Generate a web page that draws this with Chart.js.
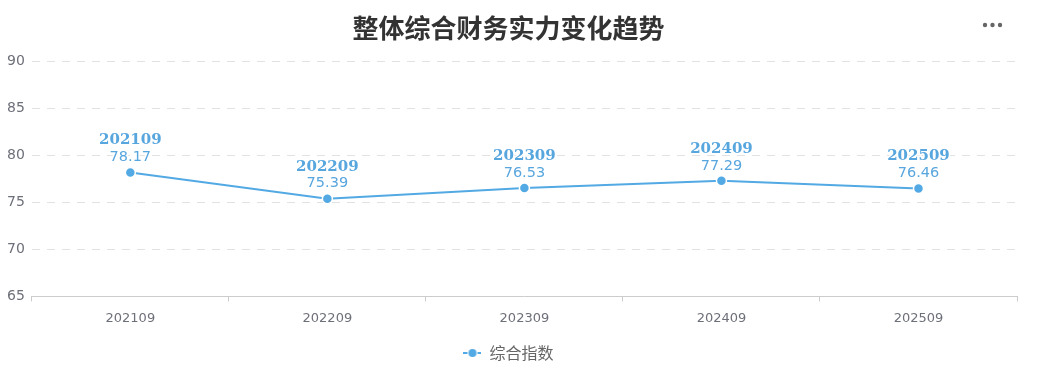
<!DOCTYPE html>
<html>
<head>
<meta charset="utf-8">
<script src="https://cdn.jsdelivr.net/npm/chart.js@4/dist/chart.umd.min.js"></script>
<style>
html,body{margin:0;padding:0;background:#fff;}
#wrap{width:1039px;height:371px;}
</style>
</head>
<body>
<div id="wrap"><canvas id="c" width="1039" height="371"></canvas></div>
<script>
const categories = ["202109", "202209", "202309", "202409", "202509"];
const indexValues = [78.17, 75.39, 76.53, 77.29, 76.46];
const yTicks = [65, 70, 75, 80, 85, 90];
const seriesName = "综合指数";
const titleText = "整体综合财务实力变化趋势";

const LINE = "#52a9e3";
const LABEL = "#58a6de";

// legend icon: line - dot - line
const icon = document.createElement("canvas");
icon.width = 18; icon.height = 10;
(function(){
  const g = icon.getContext("2d");
  g.strokeStyle = LINE; g.lineWidth = 2;
  g.beginPath(); g.moveTo(0,5); g.lineTo(4,5); g.moveTo(14,5); g.lineTo(18,5); g.stroke();
  g.fillStyle = LINE; g.beginPath(); g.arc(9,5,4,0,Math.PI*2); g.fill();
})();

const labelPlugin = {
  id: "pointLabels",
  afterDatasetsDraw(chart) {
    const ctx = chart.ctx;
    const meta = chart.getDatasetMeta(0);
    ctx.save();
    ctx.textAlign = "center";
    ctx.textBaseline = "middle";
    ctx.lineJoin = "round";
    meta.data.forEach((pt, i) => {
      const x = pt.x, y = pt.y;
      ctx.font = "bold 15px 'DejaVu Serif'";
      ctx.strokeStyle = "rgba(255,255,255,0.95)";
      ctx.lineWidth = 3;
      ctx.strokeText(categories[i], x, y - 32);
      ctx.fillStyle = LABEL;
      ctx.fillText(categories[i], x, y - 32);
      ctx.font = "14.5px 'DejaVu Sans'";
      ctx.strokeText(indexValues[i].toFixed(2), x, y - 15);
      ctx.fillText(indexValues[i].toFixed(2), x, y - 15);
    });
    ctx.restore();
  },
  afterDraw(chart) {
    const ctx = chart.ctx;
    ctx.save();
    ctx.fillStyle = "#666";
    [985, 992.5, 1000].forEach(x => {
      ctx.beginPath(); ctx.arc(x, 25, 2.2, 0, Math.PI*2); ctx.fill();
    });
    ctx.restore();
  }
};

new Chart(document.getElementById("c"), {
  type: "line",
  data: {
    labels: categories,
    datasets: [{
      label: seriesName,
      data: indexValues,
      borderColor: LINE,
      backgroundColor: LINE,
      borderWidth: 2,
      pointRadius: 5,
      pointHoverRadius: 5,
      pointBackgroundColor: LINE,
      pointBorderColor: "#fff",
      pointBorderWidth: 1.5,
      tension: 0,
      fill: false,
      pointStyle: "circle"
    }]
  },
  options: {
    responsive: false,
    animation: false,
    devicePixelRatio: 1,
    layout: { padding: { left: 0, right: 22, top: 0, bottom: 0 } },
    plugins: {
      title: {
        display: true,
        text: titleText,
        color: "#333",
        font: { size: 26, weight: "bold", family: "'Noto Sans CJK SC'", lineHeight: 1.2 },
        padding: { top: 13, bottom: 17 }
      },
      legend: {
        display: true,
        position: "bottom",
        labels: {
          usePointStyle: true,
          pointStyle: icon,
          pointStyleWidth: 18,
          boxHeight: 10,
          color: "#666",
          font: { size: 16, family: "'Noto Sans CJK SC'" },
          padding: 10
        }
      },
      tooltip: { enabled: false }
    },
    scales: {
      x: {
        type: "category",
        offset: true,
        grid: { offset: true, drawOnChartArea: false, drawTicks: true, tickLength: 5, color: "#ccc" },
        border: { display: true, color: "#ccc", width: 1 },
        ticks: { color: "#6E7079", font: { size: 13, family: "'DejaVu Sans'" }, padding: 9 }
      },
      y: {
        min: 65,
        max: 90,
        afterBuildTicks(scale) { scale.ticks = yTicks.map(v => ({ value: v })); },
        grid: { color: "#e2e2e2", drawTicks: false, lineWidth: 1 },
        border: { display: false, dash: [8, 7] },
        ticks: { color: "#6E7079", font: { size: 14, family: "'DejaVu Sans'" }, padding: 7 }
      }
    }
  },
  plugins: [labelPlugin]
});
</script>
</body>
</html>
